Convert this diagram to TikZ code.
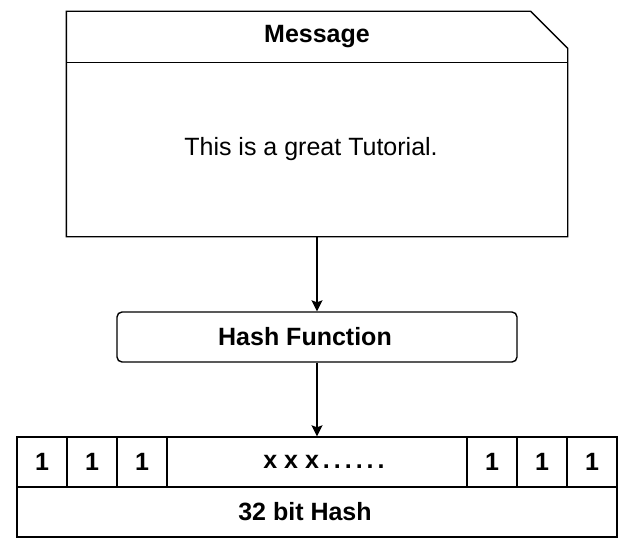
\documentclass[tikz,border=0pt]{standalone}
\usepackage{fontspec}
\setmainfont{Liberation Sans}
\usetikzlibrary{arrows.meta}

\begin{document}
\begin{tikzpicture}[
        x=1pt, y=-1pt,
        line width=1.4pt,
        every node/.style={inner sep=0pt, font=\fontsize{25}{30}\selectfont},
        cell/.style={draw, minimum height=50pt, font=\fontsize{25}{30}\selectfont\bfseries},
        bitcell/.style={cell, minimum width=50pt},
        arr/.style={-{Stealth[length=11pt, width=11pt, inset=2pt]}},
    ]
    \useasboundingbox (0,0) rectangle (623,540);
    % message box with folded corner
    \node[minimum width=500pt, minimum height=50pt, font=\fontsize{25}{30}\selectfont\bfseries] (msghead) at (317,37) {Message};
    \node[minimum width=500pt, minimum height=174pt] (msgbody) at (317,149) {This is a great Tutorial.\kern12pt};
    \draw (msghead.north west) -- ([xshift=-37pt]msghead.north east)
      -- ([yshift=-37pt]msghead.north east) -- (msgbody.south east)
      -- (msgbody.south west) -- cycle;
    \draw (msghead.south west) -- (msghead.south east);
    % hash function
    \node[draw, rounded corners=5pt, minimum width=400pt, minimum height=50pt,
          font=\fontsize{25}{30}\selectfont\bfseries] (hashfn) at (317,337) {Hash Function\kern24pt};
    % bits
    \node[cell, minimum width=300pt] (bitx) at (317,462)
      {\hspace{14pt}x x x\hspace{4pt}.\hspace{4pt}.\hspace{4pt}.\hspace{4pt}.\hspace{4pt}.\hspace{4pt}.};
    \foreach \name/\xpos in {b1/42, b2/92, b3/142, b30/492, b31/542, b32/592}
      \node[bitcell] (\name) at (\xpos,462) {1};
    \node[cell, minimum width=600pt] (hash) at (317,512) {32 bit Hash\kern24pt};
    % flow
    \draw[arr] (msgbody.south) -- (hashfn.north);
    \draw[arr] (hashfn.south) -- (bitx.north);
\end{tikzpicture}
\end{document}
